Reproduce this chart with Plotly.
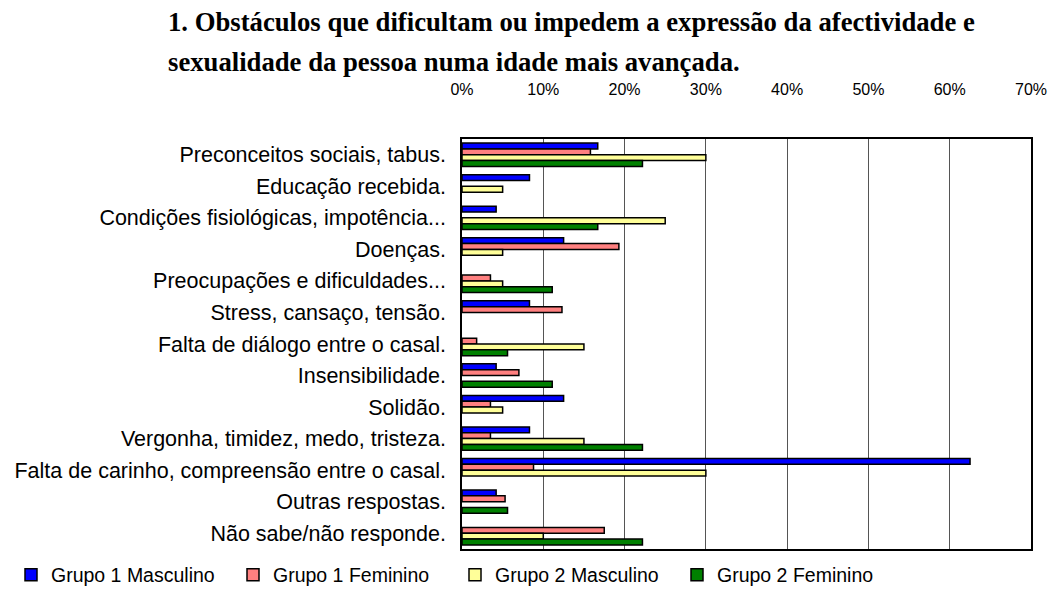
import plotly.graph_objects as go

categories = [
    "Preconceitos sociais, tabus.",
    "Educação recebida.",
    "Condições fisiológicas, impotência...",
    "Doenças.",
    "Preocupações e dificuldades...",
    "Stress, cansaço, tensão.",
    "Falta de diálogo entre o casal.",
    "Insensibilidade.",
    "Solidão.",
    "Vergonha, timidez, medo, tristeza.",
    "Falta de carinho, compreensão entre o casal.",
    "Outras respostas.",
    "Não sabe/não responde.",
]

g1_masc = [16.7, 8.3, 4.2, 12.5, None, 8.3, None, 4.2, 12.5, 8.3, 62.5, 4.2, None]
g1_fem = [15.8, None, None, 19.3, 3.5, 12.3, 1.8, 7.0, 3.5, 3.5, 8.8, 5.3, 17.5]
g2_masc = [30.0, 5.0, 25.0, 5.0, 5.0, None, 15.0, None, 5.0, 15.0, 30.0, None, 10.0]
g2_fem = [22.2, None, 16.7, None, 11.1, None, 5.6, 11.1, None, 22.2, None, 5.6, 22.2]

series = [
    ("Grupo 1 Masculino", g1_masc, "#0000FF"),
    ("Grupo 1 Feminino", g1_fem, "#FF8080"),
    ("Grupo 2 Masculino", g2_masc, "#FFFF99"),
    ("Grupo 2 Feminino", g2_fem, "#008000"),
]

tick_vals = [0, 10, 20, 30, 40, 50, 60, 70]
tick_text = ["0%", "10%", "20%", "30%", "40%", "50%", "60%", "70%"]

fig = go.Figure()
for name, vals, color in series:
    fig.add_trace(go.Bar(
        y=categories, x=vals, name=name, orientation="h",
        marker=dict(color=color, line=dict(color="black", width=1.5)),
    ))

# page has an 8px body margin; figure sized to fit the 1057x596 window
W, H = 1041, 580
L, R, T, B = 454, 18, 131, 39
PW, PH = W - L - R, H - T - B

fig.update_layout(
    width=W, height=H,
    paper_bgcolor="white", plot_bgcolor="white",
    margin=dict(l=L, r=R, t=T, b=B, autoexpand=False),
    barmode="group", bargap=0.26, bargroupgap=0,
    font=dict(family="Liberation Sans, Arial, sans-serif", size=16, color="black"),
    showlegend=True,
    legend=dict(
        orientation="h", xref="paper", yref="paper",
        x=(3 - L) / PW, y=-(567 - (T + PH)) / PH, xanchor="left", yanchor="middle",
        entrywidth=177, entrywidthmode="pixels",
        font=dict(size=19.5), traceorder="normal",
    ),
)

fig.update_xaxes(
    side="top", range=[0, 70], tickvals=tick_vals, ticktext=tick_text,
    tickfont=dict(size=16), automargin=False,
    showgrid=True, gridcolor="#555555", gridwidth=1,
    showline=True, linecolor="black", linewidth=1.5, mirror=True,
    ticks="", ticklabelstandoff=36, zeroline=False,
)
fig.update_yaxes(
    autorange="reversed", showgrid=False, tickfont=dict(size=21.5), automargin=False,
    showline=True, linecolor="black", linewidth=1.5, mirror=True,
    ticks="", ticklabelstandoff=10,
)

title_font = dict(family="Liberation Serif, Times New Roman, serif", size=26.7, color="black")
tx = (158 - L) / PW
fig.add_annotation(text="<b>1. Obstáculos que dificultam ou impedem a expressão da afectividade e</b>",
                   xref="paper", yref="paper", x=tx, y=1 + (T - 14) / PH,
                   xanchor="left", yanchor="middle", showarrow=False, font=title_font)
fig.add_annotation(text="<b>sexualidade da pessoa numa idade mais avançada.</b>",
                   xref="paper", yref="paper", x=tx, y=1 + (T - 54) / PH,
                   xanchor="left", yanchor="middle", showarrow=False, font=title_font)

fig.write_html("out.html")
